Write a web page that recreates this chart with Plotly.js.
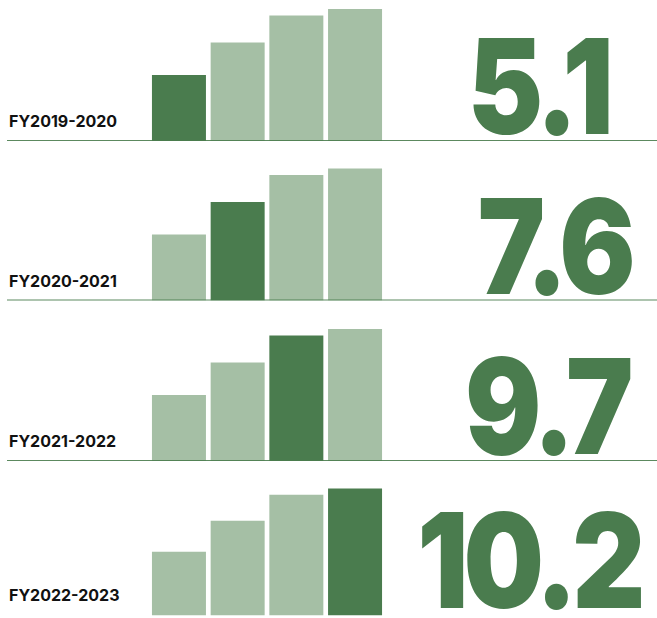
<!DOCTYPE html>
<html>
<head>
<meta charset="utf-8">
<script src="https://cdn.plot.ly/plotly-3.0.1.min.js"></script>
<style>
  html, body { margin: 0; padding: 0; background: #fff; }
  #chart { width: 657px; height: 618px; }
  g.annotation[data-index="4"] text,
  g.annotation[data-index="5"] text,
  g.annotation[data-index="6"] text,
  g.annotation[data-index="7"] text {
    letter-spacing: -3.6px;
    transform-box: fill-box;
    transform-origin: center;
    transform: scale(1.416, 1.65);
  }
</style>
</head>
<body>
<div id="chart"></div>
<script>
// ---- data ----
const categories = ["FY2019-2020", "FY2020-2021", "FY2021-2022", "FY2022-2023"];
const values = [5.1, 7.6, 9.7, 10.2];
const valueLabels = ["5.1", "7.6", "9.7", "10.2"];

// ---- styles / layout constants ----
const W = 657, H = 618;
const DARK = "#4a7c4e", LIGHT = "#a5bfa5";
const pxPerUnit = 12.95;
const baselines = [141, 300.5, 461, 621];   // pixel y of each panel's zero line
const topUnits = 10.8;
const numCenters = [538, 554, 547, 529];

const traces = [];
const yaxes = {};
const shapes = [];
const annotations = [];

categories.forEach((cat, p) => {
  const yname = p === 0 ? "y" : "y" + (p + 1);
  const lname = p === 0 ? "yaxis" : "yaxis" + (p + 1);
  const b = baselines[p];
  const topPx = b - topUnits * pxPerUnit;
  let botPx = b, rmin = 0;
  if (botPx > H) { rmin = -(botPx - H) / pxPerUnit; botPx = H; }
  yaxes[lname] = {
    domain: [(H - botPx) / H, (H - topPx) / H],
    range: [rmin, topUnits],
    anchor: "x",
    visible: false,
    fixedrange: true
  };
  traces.push({
    type: "bar",
    x: categories,
    y: values,
    yaxis: yname,
    xaxis: "x",
    marker: { color: categories.map((c, i) => i === p ? DARK : LIGHT), line: { width: 0 } },
    hoverinfo: "skip"
  });
  if (p < 3) {
    shapes.push({
      type: "line", xref: "paper", yref: yname,
      x0: 7 / W, x1: 1, y0: 0, y1: 0,
      line: { color: "rgba(74,124,78,0.9)", width: 2 },
      layer: "above"
    });
  }
});

// category labels (indices 0-3)
categories.forEach((cat, p) => {
  const yname = p === 0 ? "y" : "y" + (p + 1);
  annotations.push({
    xref: "paper", yref: yname, x: 7 / W, y: 0,
    xanchor: "left", yanchor: "bottom", yshift: 8,
    text: "<b>" + cat + "</b>", showarrow: false,
    font: { family: "Inter, sans-serif", size: 16, color: "#111111", weight: 800 }
  });
});
// big numbers (indices 4-7)
valueLabels.forEach((t, p) => {
  const yname = p === 0 ? "y" : "y" + (p + 1);
  annotations.push({
    xref: "paper", yref: yname, x: numCenters[p] / W, y: 0,
    xanchor: "center", yanchor: "bottom", yshift: 4.9,
    text: t, showarrow: false,
    font: { family: "Inter, sans-serif", size: 80, color: DARK, weight: 900 }
  });
});

const layout = Object.assign({
  width: W, height: H,
  margin: { l: 0, r: 0, t: 0, b: 0 },
  paper_bgcolor: "#ffffff", plot_bgcolor: "rgba(0,0,0,0)",
  showlegend: false,
  bargap: 0.08,
  xaxis: {
    domain: [149.6 / W, 384.4 / W],
    range: [-0.5, 3.5],
    visible: false, fixedrange: true
  },
  shapes: shapes,
  annotations: annotations
}, yaxes);

Plotly.newPlot("chart", traces, layout, { displayModeBar: false, staticPlot: true });
</script>
</body>
</html>
